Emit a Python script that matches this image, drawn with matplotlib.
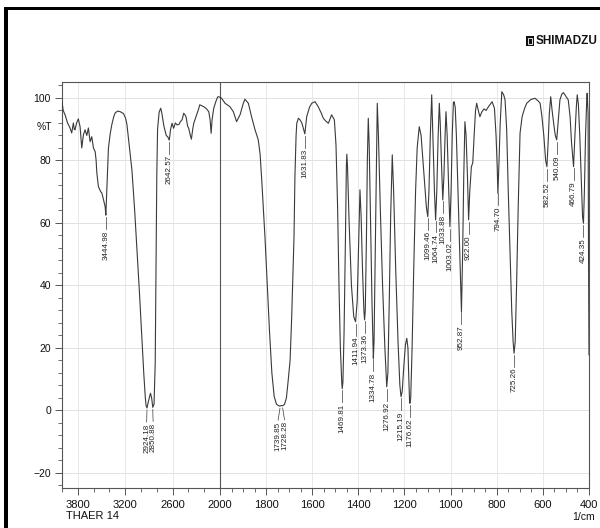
import numpy as np
import matplotlib
matplotlib.use("Agg")
import matplotlib.pyplot as plt
from matplotlib.patches import Rectangle
from matplotlib.ticker import FixedLocator, MultipleLocator

# IR spectrum (wavenumber 1/cm, %T)
wavenumber = [
    4000, 3985, 3960, 3930, 3900, 3877, 3856, 3845, 3835, 3815, 3793, 3771, 3750, 3729,
    3708, 3686, 3666, 3644, 3623, 3602, 3580, 3568, 3559, 3539, 3510, 3496, 3475, 3454,
    3445, 3430, 3412, 3390, 3369, 3345, 3327, 3295, 3263, 3221, 3195, 3178, 3150, 3115,
    3080, 3050, 3020, 2990, 2965, 2945, 2935, 2924, 2905, 2880, 2865, 2851, 2835, 2820,
    2810, 2800, 2790, 2770, 2750, 2735, 2710, 2680, 2660, 2642, 2625, 2607, 2587, 2565,
    2544, 2520, 2501, 2480, 2459, 2440, 2429, 2410, 2396, 2375, 2362, 2345, 2332, 2310,
    2289, 2270, 2256, 2230, 2205, 2170, 2142, 2125, 2112, 2100, 2079, 2050, 2030, 2016,
    2000, 1993, 1978, 1957, 1942, 1928, 1913, 1900, 1892, 1877, 1863, 1848, 1834, 1826,
    1819, 1812, 1805, 1795, 1785, 1775, 1765, 1755, 1745, 1740, 1734, 1728, 1720, 1712,
    1705, 1696, 1689, 1682, 1679, 1675, 1670, 1667, 1660, 1653, 1645, 1632, 1624, 1612,
    1602, 1588, 1574, 1560, 1552, 1540, 1530, 1516, 1504, 1497, 1490, 1484, 1478, 1472,
    1470, 1467, 1462, 1456, 1452, 1450, 1447, 1440, 1430, 1420, 1412, 1405, 1398, 1393,
    1388, 1382, 1376, 1373, 1370, 1365, 1361, 1357, 1353, 1347, 1341, 1337, 1335, 1332,
    1327, 1322, 1318, 1313, 1305, 1295, 1285, 1277, 1272, 1266, 1260, 1253, 1247, 1238,
    1228, 1220, 1215, 1210, 1203, 1196, 1190, 1185, 1182, 1178, 1176.6, 1173, 1167, 1160,
    1152, 1145, 1136, 1128, 1120, 1112, 1105, 1099, 1094, 1088, 1082, 1077, 1070, 1065,
    1060, 1054, 1049, 1045, 1040, 1034, 1029, 1024, 1020, 1015, 1008, 1003, 998, 993,
    988, 985, 980, 975, 968, 960, 953, 948, 943, 938, 933, 927, 922, 917,
    910, 904, 898, 892, 887, 880, 873, 865, 855, 846, 836, 828, 820, 810,
    803, 798, 795, 790, 785, 778, 770, 764, 757, 750, 742, 735, 729, 725,
    720, 714, 707, 699, 690, 680, 670, 652, 634, 620, 612, 604, 596, 588,
    582.5, 577, 572, 566, 560, 550, 546, 540, 534, 526, 518, 511, 500, 490,
    482, 476, 467, 461, 455, 451, 446, 440, 434, 428, 424, 420, 415, 410,
    408, 404, 402, 400,
]
transmittance = [
    98.8, 96.0, 94.5, 92.0, 90.5, 88.8, 92.0, 90.0, 89.8, 92.0, 93.3, 90.8, 84.0, 88.2,
    89.8, 88.0, 90.4, 86.0, 87.6, 84.0, 82.8, 80.0, 76.0, 71.6, 70.0, 69.6, 67.5, 65.2,
    62.5, 72.0, 84.0, 88.5, 91.5, 94.0, 95.2, 95.8, 95.6, 95.0, 93.5, 91.5, 85.0, 77.0,
    64.0, 51.0, 38.0, 24.0, 12.0, 4.0, 1.5, 0.8, 3.0, 5.5, 4.0, 1.0, 2.0, 15.0,
    45.0, 75.0, 90.0, 95.5, 96.7, 95.0, 91.0, 88.0, 87.5, 86.5, 90.0, 91.9, 90.3, 92.0,
    91.4, 91.5, 92.4, 93.0, 95.1, 94.5, 93.9, 91.0, 90.3, 88.0, 86.8, 90.0, 91.9, 93.5,
    95.1, 96.5, 97.8, 97.5, 97.2, 96.5, 95.6, 93.0, 88.7, 93.0, 96.7, 99.0, 100.3, 100.4,
    100.2, 99.9, 98.3, 97.2, 95.6, 92.4, 94.6, 98.0, 99.6, 98.3, 94.0, 89.8, 86.6, 82.0,
    73.8, 65.0, 55.6, 40.0, 25.0, 12.0, 4.5, 2.0, 1.5, 1.4, 1.6, 1.5, 2.0, 4.0,
    9.0, 16.0, 30.0, 48.0, 55.6, 75.0, 88.0, 91.9, 93.5, 93.0, 92.0, 88.5, 94.0, 97.0,
    98.3, 98.8, 97.2, 95.0, 93.5, 92.5, 91.9, 94.6, 93.0, 85.0, 65.0, 40.0, 20.0, 9.0,
    7.0, 9.0, 25.0, 55.0, 78.0, 82.0, 78.0, 60.0, 40.0, 30.0, 28.4, 35.0, 55.0, 70.6,
    62.0, 45.0, 32.0, 29.0, 32.0, 55.0, 80.0, 93.5, 85.0, 60.0, 35.0, 22.0, 16.7, 22.0,
    50.0, 80.0, 98.3, 88.0, 65.0, 40.0, 20.0, 7.6, 12.0, 35.0, 62.0, 81.8, 70.0, 45.0,
    22.0, 8.0, 4.4, 6.0, 14.0, 21.0, 23.1, 20.0, 12.0, 3.0, 2.3, 4.0, 20.0, 45.0,
    70.0, 84.0, 90.8, 88.0, 80.0, 72.0, 65.0, 62.0, 70.0, 88.0, 101.0, 88.0, 70.0, 61.0,
    70.0, 88.0, 98.3, 92.0, 80.0, 67.4, 75.0, 88.0, 95.6, 88.0, 70.0, 58.8, 70.0, 88.0,
    98.5, 98.8, 97.0, 88.0, 70.0, 50.0, 31.6, 50.0, 75.0, 92.4, 88.0, 75.0, 61.0, 70.0,
    78.0, 79.2, 88.0, 96.0, 98.3, 96.0, 94.0, 95.5, 96.5, 96.0, 97.2, 98.0, 98.8, 96.7,
    88.0, 78.0, 69.5, 80.0, 92.0, 102.0, 101.0, 99.4, 90.0, 70.0, 50.0, 32.0, 22.0, 18.3,
    22.0, 40.0, 65.0, 88.7, 94.0, 96.5, 98.3, 99.5, 99.9, 99.0, 98.3, 94.0, 88.0, 80.0,
    78.0, 86.0, 95.0, 100.4, 96.0, 90.0, 88.0, 86.6, 92.0, 99.4, 101.2, 101.7, 100.5, 99.4,
    94.0, 86.0, 78.0, 88.0, 97.0, 101.0, 98.0, 88.0, 75.0, 62.0, 59.9, 70.0, 88.0, 99.0,
    101.5, 95.0, 50.0, 17.8,
]

peak_labels = ["3444.98", "2924.18", "2850.88", "2642.57", "1739.85", "1728.28", "1631.83",
               "1469.81", "1411.94", "1373.36", "1334.78", "1276.92", "1215.19", "1176.62",
               "1099.46", "1064.74", "1033.88", "1003.02", "952.87", "922.00", "794.70",
               "725.26", "582.52", "540.09", "466.79", "424.35"]

major_ticks = [3800, 3200, 2600, 2000, 1800, 1600, 1400, 1200, 1000, 800, 600, 400]
y_ticks = [100, 80, 60, 40, 20, 0, -20]

K = 2.92  # 4000-2000 part is compressed


def fwd(w):
    w = np.asarray(w, dtype=float)
    return np.where(w > 2000, 2000 + (w - 2000) / K, w)


def inv(u):
    u = np.asarray(u, dtype=float)
    return np.where(u > 2000, 2000 + (u - 2000) * K, u)


plt.rcParams['font.family'] = ['Liberation Sans', 'DejaVu Sans']
ink = '#3a3a3a'

fig = plt.figure(figsize=(6, 5.28), dpi=100)
ax = fig.add_axes([62 / 600, 1 - 488 / 528, 527 / 600, 406 / 528])
ax.set_xscale('function', functions=(fwd, inv))
ax.set_xlim(4000, 400)
ax.set_ylim(-24.8, 105.1)

ax.plot(wavenumber, transmittance, color=ink, lw=0.8, zorder=3)

# grid
for t in y_ticks:
    ax.axhline(t, color='#dcdcdc', lw=0.6, zorder=1)
for t in major_ticks:
    if t != 2000:
        ax.axvline(t, color='#e4e4e4', lw=0.6, zorder=1)
ax.axvline(2000, color='#555555', lw=0.8, zorder=2)

# peak labels
wn = np.array(wavenumber)[::-1]
tr = np.array(transmittance)[::-1]
pk = np.array([float(s) for s in peak_labels])
pk_t = np.interp(pk, wn, tr)
u = fwd(pk)
lab_u = u.copy()
gap = 28.0
for i in range(1, len(lab_u)):
    d = lab_u[i - 1] - lab_u[i]
    if d < gap:
        s = (gap - d) / 2
        lab_u[i - 1] += s
        lab_u[i] -= s
lab_w = inv(lab_u)
for s, w, lw_, t in zip(peak_labels, pk, lab_w, pk_t):
    ax.plot([w, lw_], [t - 0.7, t - 4.5], color=ink, lw=0.5, zorder=3)
    ax.text(lw_, t - 4.9, s, rotation=90, ha='center', va='top', fontsize=5.8,
            color='#222222', zorder=4)

# axes styling
for sp in ax.spines.values():
    sp.set_color('#555555')
    sp.set_linewidth(0.8)
ax.xaxis.set_major_locator(FixedLocator(major_ticks))
minor_x = list(range(4000, 2000, -200)) + list(range(2000, 399, -50))
ax.xaxis.set_minor_locator(FixedLocator(minor_x))
ax.set_xticklabels([str(t) for t in major_ticks])
ax.yaxis.set_major_locator(FixedLocator(y_ticks))
ax.yaxis.set_minor_locator(MultipleLocator(4))
ax.tick_params(which='major', length=5, width=0.7, color='#555555', labelsize=8,
               labelcolor='#111111', pad=4)
ax.tick_params(which='minor', length=3, width=0.6, color='#555555')
ax.tick_params(axis='y', labelsize=7.5, pad=3)

fig.text(44 / 600, 1 - 127 / 528, '%T', fontsize=7.5, ha='center', va='center', color='#111111')
fig.text(66 / 600, 1 - 516 / 528, 'THAER 14', fontsize=8, ha='left', va='center', color='#111111')
fig.text(584 / 600, 1 - 517 / 528, '1/cm', fontsize=7.5, ha='center', va='center', color='#111111')

# logo
fig.add_artist(Rectangle((526 / 600, 1 - 46 / 528), 8 / 600, 10 / 528,
                         transform=fig.transFigure, facecolor='#111111', edgecolor='none'))
fig.add_artist(Rectangle((528 / 600, 1 - 43.5 / 528), 4 / 600, 5 / 528,
                         transform=fig.transFigure, facecolor='none', edgecolor='white', lw=0.6))
fig.text(536 / 600, 1 - 41 / 528, 'SHIMADZU', fontsize=8.5, fontweight='bold',
         ha='left', va='center', color='#111111')

# scan border
fig.add_artist(Rectangle((4 / 600, 1 - 10 / 528), 596 / 600, 3 / 528,
                         transform=fig.transFigure, facecolor='black', edgecolor='none'))
fig.add_artist(Rectangle((4 / 600, 0), 4 / 600, 521 / 528,
                         transform=fig.transFigure, facecolor='black', edgecolor='none'))

fig.savefig('out.png', dpi=100)
